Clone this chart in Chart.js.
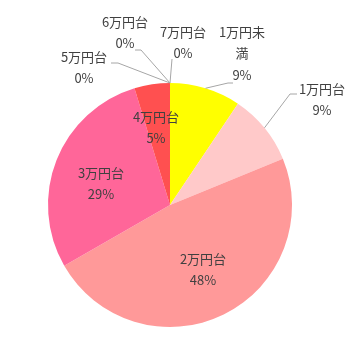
<!DOCTYPE html>
<html lang="ja">
<head>
    <meta charset="UTF-8">
    <title>価格帯の割合</title>
    <style>
        body {
            margin: 0;
            background: #fff;
        }

        .chart-box {
            width: 353px;
            height: 358px;
        }
    </style>
</head>
<body>
    <div class="chart-box">
        <canvas id="pieChart"></canvas>
    </div>
    <script src="https://cdn.jsdelivr.net/npm/chart.js"></script>
    <script>
        // data (shares in %)
        const categories = ['1万円未満', '1万円台', '2万円台', '3万円台', '4万円台', '5万円台', '6万円台', '7万円台'];
        const shares = [9.4, 9.4, 47.9, 28.6, 4.7, 0, 0, 0];
        const sliceColors = ['#FFFF00', '#FFC9C9', '#FF9999', '#FF6699', '#FF5050', '#FF3333', '#FF0000', '#CC0000'];

        // where each label sits (centre of first line) and where its leader line ends
        const labelLayout = [
            { x: 242, y: 32, lines: ['1万円未', '満'], leader: [[228, 83], [233, 83]] },
            { x: 322, y: 89, leader: [[290, 94], [297, 94]] },
            { x: 203, y: 259 },
            { x: 101, y: 173 },
            { x: 156, y: 117 },
            { x: 84, y: 57, leader: [[118, 63], [111, 63]] },
            { x: 125, y: 22, leader: [[141, 50], [135, 50]] },
            { x: 183, y: 32, leader: [[172, 59]] }
        ];

        const total = shares.reduce((a, b) => a + b, 0);

        const labelPlugin = {
            id: 'sliceLabels',
            afterDatasetsDraw(chart) {
                const ctx = chart.ctx;
                const arcs = chart.getDatasetMeta(0).data;
                ctx.save();
                arcs.forEach((arc, i) => {
                    const lay = labelLayout[i];
                    if (lay.leader) {
                        const mid = (arc.startAngle + arc.endAngle) / 2;
                        ctx.beginPath();
                        ctx.moveTo(arc.x + Math.cos(mid) * arc.outerRadius, arc.y + Math.sin(mid) * arc.outerRadius);
                        lay.leader.forEach(p => ctx.lineTo(p[0], p[1]));
                        ctx.strokeStyle = '#A6A6A6';
                        ctx.lineWidth = 1;
                        ctx.stroke();
                    }
                    const lines = (lay.lines || [categories[i]]).concat(Math.round(shares[i] / total * 100) + '%');
                    ctx.fillStyle = '#404040';
                    ctx.font = '13px "Noto Sans CJK JP", sans-serif';
                    ctx.textAlign = 'center';
                    ctx.textBaseline = 'middle';
                    lines.forEach((t, k) => ctx.fillText(t, lay.x, lay.y + k * 21.5));
                });
                ctx.restore();
            }
        };

        new Chart(document.getElementById('pieChart'), {
            type: 'pie',
            data: {
                labels: categories,
                datasets: [{
                    data: shares,
                    backgroundColor: sliceColors,
                    borderWidth: 0
                }]
            },
            options: {
                responsive: true,
                maintainAspectRatio: false,
                animation: false,
                layout: {
                    padding: { left: 48, right: 61, top: 83, bottom: 31 }
                },
                plugins: {
                    legend: { display: false },
                    tooltip: { enabled: false }
                }
            },
            plugins: [labelPlugin]
        });
    </script>
</body>
</html>
